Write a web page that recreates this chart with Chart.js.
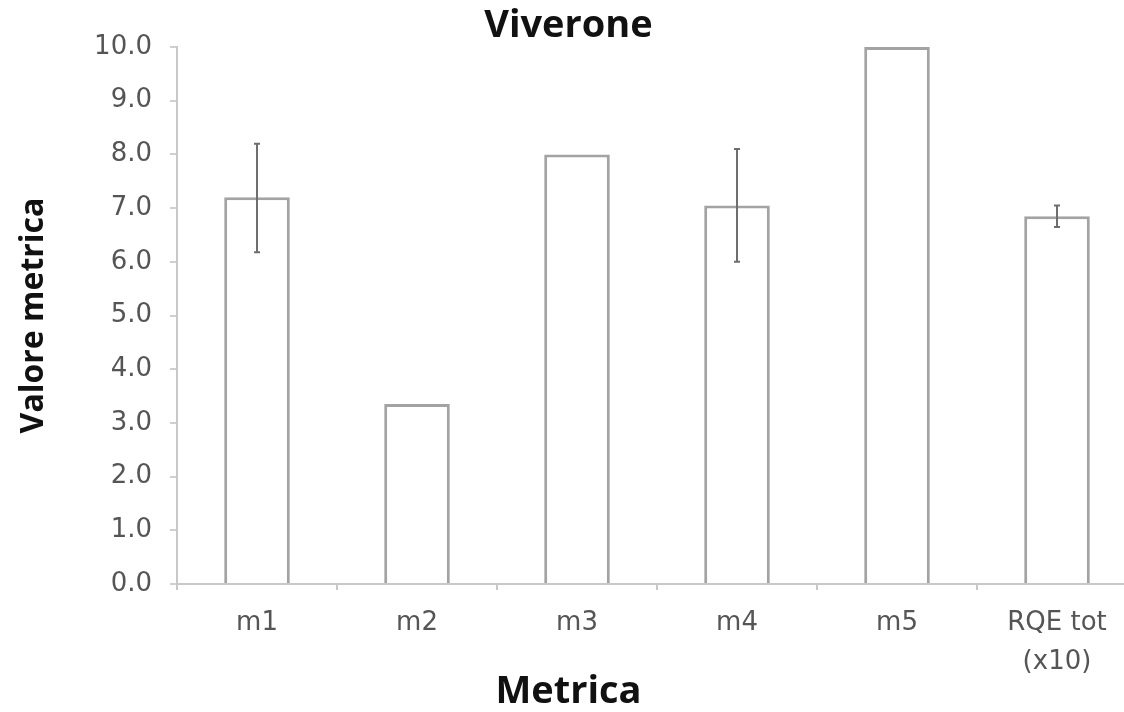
<!DOCTYPE html>
<html>
<head>
<meta charset="utf-8">
<script src="https://cdn.jsdelivr.net/npm/chart.js@4/dist/chart.umd.min.js"></script>
<style>
  html, body { margin: 0; padding: 0; background: #fff; overflow: hidden; }
</style>
</head>
<body>
<canvas id="myChart" width="1148" height="712"></canvas>
<script>
const categories = ['m1', 'm2', 'm3', 'm4', 'm5', ['RQE tot', '(x10)']];
const values = [7.2, 3.35, 8.0, 7.05, 10.0, 6.85];
const errLow = [6.18, null, null, 6.0, null, 6.65];
const errHigh = [8.2, null, null, 8.1, null, 7.05];
const yTicks = [0, 1, 2, 3, 4, 5, 6, 7, 8, 9, 10];

const boldFont = "'Open Sans', sans-serif";
const tickFont = "'DejaVu Sans', sans-serif";

// vertical whiskers on top of the bars
const errorBars = {
    id: 'errorBars',
    afterDatasetsDraw(chart) {
        const ctx = chart.ctx;
        const x = chart.scales.x;
        const y = chart.scales.y;
        ctx.save();
        ctx.strokeStyle = '#6e6e6e';
        ctx.lineWidth = 2;
        values.forEach((v, i) => {
            if (errLow[i] == null) return;
            const px = x.getPixelForValue(i);
            const yLo = y.getPixelForValue(errLow[i]);
            const yHi = y.getPixelForValue(errHigh[i]);
            ctx.beginPath();
            ctx.moveTo(px, yLo);
            ctx.lineTo(px, yHi);
            ctx.moveTo(px - 3, yLo);
            ctx.lineTo(px + 3, yLo);
            ctx.moveTo(px - 3, yHi);
            ctx.lineTo(px + 3, yHi);
            ctx.stroke();
        });
        ctx.restore();
    }
};

const config = {
    type: 'bar',
    data: {
        labels: categories,
        datasets: [{
            data: values,
            backgroundColor: '#ffffff',
            borderColor: '#a3a3a3',
            borderWidth: 3,
            borderSkipped: 'bottom',
            categoryPercentage: 1.0,
            barPercentage: 0.41
        }]
    },
    options: {
        responsive: false,
        animation: false,
        layout: { padding: { left: 0, right: 11, top: 0, bottom: 0 } },
        plugins: {
            legend: { display: false },
            tooltip: { enabled: false },
            title: {
                display: true,
                text: 'Viverone',
                color: '#111',
                font: { family: boldFont, size: 38, weight: 'bold', lineHeight: 1 },
                padding: { top: 7, bottom: 2 }
            },
            subtitle: {
                display: true,
                position: 'bottom',
                text: 'Metrica',
                color: '#111',
                font: { family: boldFont, size: 38, weight: 'bold', lineHeight: 1 },
                padding: { top: 0, bottom: 1 }
            }
        },
        scales: {
            x: {
                grid: {
                    offset: true,
                    drawOnChartArea: false,
                    tickLength: 6,
                    color: '#c8c8c8',
                    lineWidth: 2
                },
                border: { color: '#c8c8c8', width: 2 },
                ticks: {
                    color: '#555',
                    font: { family: tickFont, size: 26, lineHeight: 1.5 },
                    padding: 14,
                    maxRotation: 0,
                    autoSkip: false
                },
                afterFit(scale) { scale.height = 89; }
            },
            y: {
                min: 0,
                max: 10,
                afterBuildTicks(scale) { scale.ticks = yTicks.map(v => ({ value: v })); },
                grid: {
                    drawOnChartArea: false,
                    tickLength: 7,
                    color: '#d0d0d0',
                    lineWidth: 2
                },
                border: { color: '#c8c8c8', width: 2 },
                ticks: {
                    color: '#555',
                    font: { family: tickFont, size: 26 },
                    padding: 18,
                    callback: v => v.toFixed(1)
                },
                title: {
                    display: true,
                    text: 'Valore metrica',
                    color: '#111',
                    font: { family: boldFont, size: 32, weight: 'bold', lineHeight: 1 },
                    padding: { top: 18, bottom: 0 }
                },
                afterFit(scale) { scale.width = 177; }
            }
        }
    },
    plugins: [errorBars]
};

const myChart = new Chart(document.getElementById('myChart'), config);
</script>
</body>
</html>
